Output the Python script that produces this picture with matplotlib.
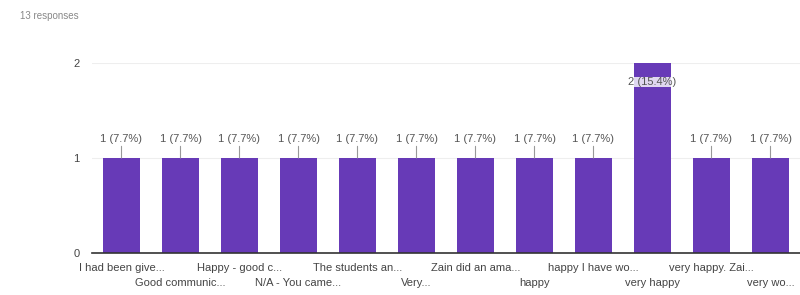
import matplotlib.pyplot as plt
import numpy as np

# answers (truncated as shown in the form summary) and their counts
labels = [
    "I had been give...", "Good communic...", "Happy - good c...", "N/A - You came...",
    "The students an...", "Very...", "Zain did an ama...", "happy",
    "happy I have wo...", "very happy", "very happy. Zai...", "very wo...",
]
counts = [1, 1, 1, 1, 1, 1, 1, 1, 1, 2, 1, 1]
total = 13

plt.rcParams['font.family'] = ['Liberation Sans', 'DejaVu Sans']

fig = plt.figure(figsize=(8, 2.95), dpi=100)
ax = fig.add_axes([0.115, 0.1424, 0.885, 0.644])

x = np.arange(len(labels))
ax.bar(x, counts, width=0.62, color='#673ab7', zorder=2)

ax.set_xlim(-0.5, len(labels) - 0.5)
ax.set_ylim(0, max(counts))
ax.set_yticks([0, 1, 2])
ax.tick_params(axis='y', length=0, pad=9, labelsize=8, labelcolor='#444')
ax.set_xticks([])
for s in ['top', 'right', 'left']:
    ax.spines[s].set_visible(False)
ax.spines['bottom'].set_color('#333')
ax.spines['bottom'].set_linewidth(1.2)
ax.spines['bottom'].set_zorder(3)
ax.grid(axis='y', color='#eeeeee', linewidth=0.8, zorder=0)

# category labels, staggered on two rows
for i, lab in enumerate(labels):
    off = -10.8 if i % 2 == 0 else -21.6
    ax.annotate(lab, xy=(i, 0), xycoords=('data', 'axes fraction'),
                xytext=(0, off), textcoords='offset points',
                ha='center', va='center', fontsize=8, color='#444')

# value labels
for i, c in enumerate(counts):
    txt = f"{c} ({c / total * 100:.1f}%)"
    if c == max(counts):
        ax.text(i, c - 0.2, txt, ha='center', va='center', fontsize=8, color='#555',
                bbox=dict(facecolor='white', edgecolor='none', alpha=0.8, pad=0.3),
                zorder=4)
    else:
        ax.annotate(txt, xy=(i, c), xytext=(0, 14), textcoords='offset points',
                    ha='center', va='center', fontsize=8, color='#555',
                    arrowprops=dict(arrowstyle='-', color='#999', lw=0.8,
                                    shrinkA=0, shrinkB=0))

fig.text(0.025, 0.945, "13 responses", ha='left', va='center', fontsize=7, color='#888')

fig.savefig('out.png', dpi=100)
